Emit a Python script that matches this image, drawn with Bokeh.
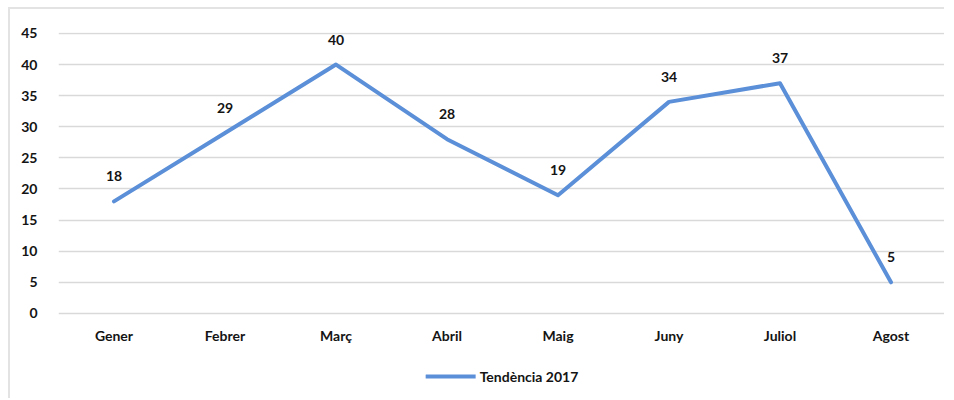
from bokeh.plotting import figure
from bokeh.models import ColumnDataSource, LabelSet, Legend, LegendItem, FactorRange, FixedTicker, Range1d
from bokeh.core.properties import value
from bokeh.embed import file_html
from bokeh.resources import INLINE

months = ["Gener", "Febrer", "Març", "Abril", "Maig", "Juny", "Juliol", "Agost"]
values = [18, 29, 40, 28, 19, 34, 37, 5]
series_name = "Tendència 2017"
y_ticks = [0, 5, 10, 15, 20, 25, 30, 35, 40, 45]

FONT = "Lato"
FS = "14px"
LINE_COLOR = "#5b8fd8"
TEXT_COLOR = "#141414"

src = ColumnDataSource(dict(x=months, y=values, lab=[str(v) for v in values]))

p = figure(width=936, height=391, x_range=FactorRange(*months, range_padding=0),
           y_range=Range1d(-14, 45.15), output_backend="svg", toolbar_location=None,
           min_border_left=48, min_border_right=0, min_border_top=23, min_border_bottom=0)
p.styles = {"margin-left": "8px", "margin-top": "7px",
            "border-left": "2px solid #e3e3e3", "border-top": "2px solid #e3e3e3"}

r = p.line("x", "y", source=src, line_color=LINE_COLOR, line_width=4, line_cap="round", line_join="round")

labels = LabelSet(x="x", y="y", text="lab", source=src, y_offset=25, text_align="center",
                  text_baseline="middle", text_font=value(FONT), text_font_style="bold",
                  text_font_size=FS, text_color=TEXT_COLOR)
p.add_layout(labels)

p.outline_line_color = None
p.xgrid.grid_line_color = None
p.ygrid.grid_line_color = "#d9d9d9"
p.ygrid.grid_line_width = 1.5
p.yaxis.ticker = FixedTicker(ticks=y_ticks)

for ax in (p.xaxis[0], p.yaxis[0]):
    ax.axis_line_color = None
    ax.major_tick_line_color = None
    ax.minor_tick_line_color = None
    ax.major_label_text_font = FONT
    ax.major_label_text_font_style = "bold"
    ax.major_label_text_font_size = FS
    ax.major_label_text_color = TEXT_COLOR
p.yaxis.major_label_standoff = 15
p.xaxis.major_label_standoff = 8
p.xaxis.fixed_location = 0

legend = Legend(items=[LegendItem(label=series_name, renderers=[r])], orientation="horizontal",
                label_text_font=FONT, label_text_font_style="bold",
                label_text_font_size=FS, label_text_color=TEXT_COLOR,
                border_line_color=None, background_fill_alpha=0, glyph_width=50, label_standoff=4,
                padding=4, margin=14, location="bottom_center")
p.add_layout(legend, "center")

open("out.html", "w").write(file_html(p, INLINE))
